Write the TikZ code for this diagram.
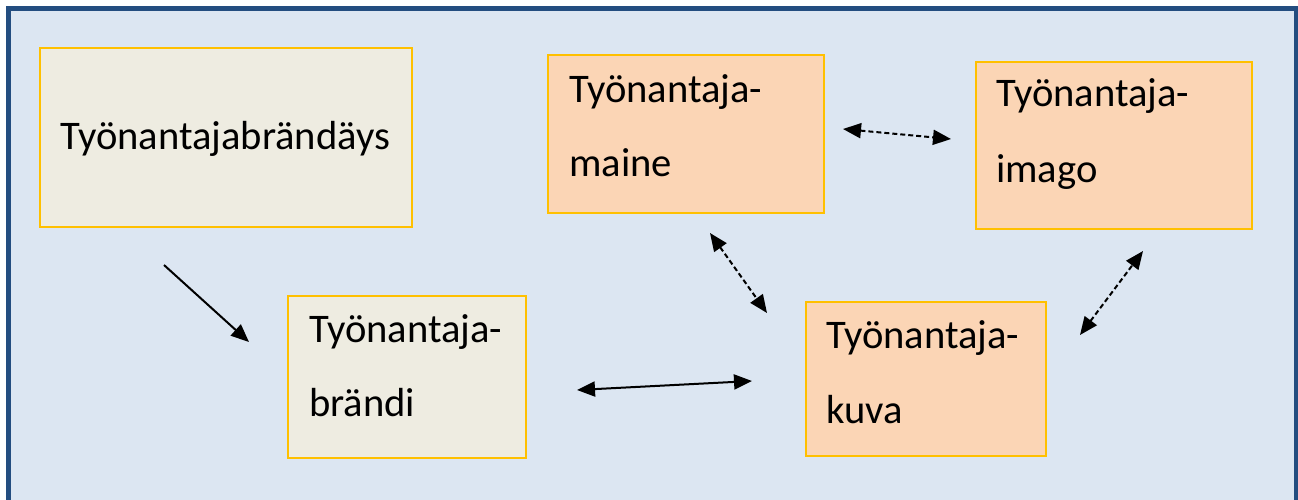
\documentclass[tikz,border=0pt]{standalone}
\usepackage{fontspec}
\setmainfont{Carlito}
\usetikzlibrary{arrows.meta}
\definecolor{framefill}{HTML}{DCE6F2}
\definecolor{framedraw}{HTML}{234D80}
\definecolor{beige}{HTML}{EEECE1}
\definecolor{peach}{HTML}{FBD5B5}
\definecolor{gold}{HTML}{FFC000}
\tikzset{
  box/.style={draw=gold, line width=1.8pt, anchor=north west, inner sep=0pt},
  beigebox/.style={box, fill=beige},
  peachbox/.style={box, fill=peach},
  lbl/.style={anchor=base west, inner sep=0pt, font=\fontsize{40.6}{48}\selectfont},
  tip/.style={Triangle[length=18pt,width=15pt]},
  conn/.style={line width=2pt, {Triangle[length=18pt,width=15pt]}-{Triangle[length=18pt,width=15pt]}},
  oneway/.style={line width=2pt, -{Triangle[length=18pt,width=15pt]}},
  dashconn/.style={conn, dash pattern=on 5pt off 3pt},
}
\begin{document}
\begin{tikzpicture}[x=1pt,y=-1pt]
\useasboundingbox (0,0) rectangle (1298,499);
\clip (0,0) rectangle (1298,499);
\draw[fill=framefill, draw=framedraw, line width=5pt] (8,8) rectangle (1296,530);

% boxes
\node[beigebox, minimum width=372pt, minimum height=179pt] (brandays) at (39,47) {};
\node[peachbox, minimum width=276pt, minimum height=158pt] (maine) at (547,54) {};
\node[peachbox, minimum width=276pt, minimum height=167pt] (imago) at (975,61) {};
\node[beigebox, minimum width=238pt, minimum height=162pt] (brandi) at (287,295) {};
\node[peachbox, minimum width=240pt, minimum height=154pt] (kuva) at (805,301) {};

% labels
\node[lbl] (tbrandays) at (60,149) {Työnantajabrändäys};
\node[lbl] (tmaine1) at (569,102) {Työnantaja-};
\node[lbl] (tmaine2) at (569,176) {maine};
\node[lbl] (timago1) at (996,106) {Työnantaja-};
\node[lbl] (timago2) at (996,182) {imago};
\node[lbl] (tbrandi1) at (309,342) {Työnantaja-};
\node[lbl] (tbrandi2) at (309,416) {brändi};
\node[lbl] (tkuva1) at (826,348) {Työnantaja-};
\node[lbl] (tkuva2) at (826,423) {kuva};

% connector end points
\coordinate (a1s) at (164,265);
\coordinate (a1e) at (249,342);
\coordinate (a2s) at (577,390);
\coordinate (a2e) at (752,381);
\coordinate (a3s) at (843,129);
\coordinate (a3e) at (951,139);
\coordinate (a4s) at (710,233);
\coordinate (a4e) at (767,313);
\coordinate (a5s) at (1080,335);
\coordinate (a5e) at (1143,251);

\draw[oneway] (a1s) -- (a1e);
\draw[conn] (a2s) -- (a2e);
\draw[dashconn] (a3s) -- (a3e);
\draw[dashconn] (a4s) -- (a4e);
\draw[dashconn] (a5s) -- (a5e);
\end{tikzpicture}
\end{document}
